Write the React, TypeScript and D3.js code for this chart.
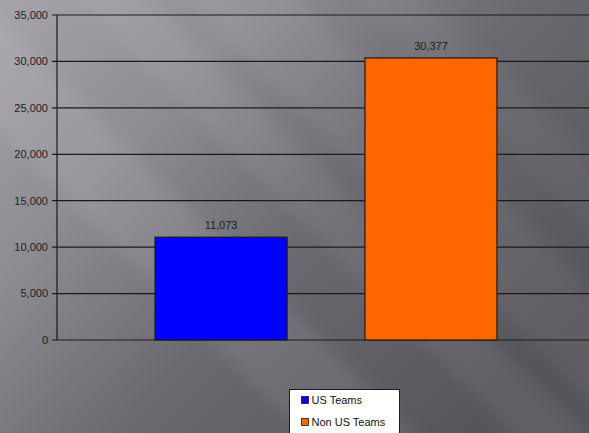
import React from "react";
import * as d3 from "d3";

const series = ["US Teams", "Non US Teams"];
const values = [11073, 30377];
const colors = ["#0000ff", "#ff6600"];
const yTicks = [0, 5000, 10000, 15000, 20000, 25000, 30000, 35000];

const W = 589;
const H = 433;

export default function App() {
  const y = d3.scaleLinear().domain([0, 35000]).range([340, 15]);
  const x = d3
    .scaleBand<string>()
    .domain(series)
    .range([57, 595])
    .paddingInner(0.371)
    .paddingOuter(0.467);
  const fmt = d3.format(",");
  const axisX = 57;

  // diagonal streaks ("\" direction)
  const streaks = [
    { x0: -150, w: 110, o: 0.08 },
    { x0: 60, w: 70, o: 0.06 },
    { x0: 170, w: 110, o: 0.05 },
    { x0: 340, w: 70, o: 0.035 },
  ];

  return (
    <svg
      width={W}
      height={H}
      style={{ position: "absolute", left: 0, top: 0, display: "block" }}
      fontFamily="Liberation Sans, Arial, sans-serif"
    >
      <defs>
        <linearGradient id="bg" x1="0" y1="0" x2="1" y2="0.7">
          <stop offset="0" stopColor="#a6a3aa" />
          <stop offset="0.3" stopColor="#8f8d94" />
          <stop offset="0.6" stopColor="#6c6a71" />
          <stop offset="1" stopColor="#57555c" />
        </linearGradient>
        <filter id="blur" x="-20%" y="-20%" width="140%" height="140%">
          <feGaussianBlur stdDeviation="7" />
        </filter>
        <clipPath id="clip">
          <rect x={0} y={0} width={W} height={H} />
        </clipPath>
      </defs>
      <rect x={0} y={0} width={W} height={H} fill="url(#bg)" />
      <g clipPath="url(#clip)">
        <g filter="url(#blur)">
          {streaks.map((s, i) => (
            <polygon
              key={i}
              points={`${s.x0},-20 ${s.x0 + s.w},-20 ${s.x0 + s.w + H + 40},${H + 20} ${s.x0 + H + 40},${H + 20}`}
              fill="#ffffff"
              opacity={s.o}
            />
          ))}
        </g>
      </g>
      {/* gridlines */}
      {yTicks.map((t) => (
        <g key={t}>
          <line x1={axisX - 5} x2={W} y1={y(t)} y2={y(t)} stroke="#1a1a1a" strokeWidth={1.2} />
          <text
            x={48}
            y={y(t)}
            dy="0.35em"
            textAnchor="end"
            fontSize={11}
            fill="#1e1e1e"
          >
            {fmt(t)}
          </text>
        </g>
      ))}
      <line x1={axisX} x2={axisX} y1={y(35000)} y2={y(0)} stroke="#1a1a1a" strokeWidth={1.2} />
      {/* bars */}
      {series.map((s, i) => (
        <g key={s}>
          <rect
            x={x(s)}
            y={y(values[i])}
            width={x.bandwidth()}
            height={y(0) - y(values[i])}
            fill={colors[i]}
            stroke="#1a1a1a"
            strokeWidth={1.2}
          />
          <text
            x={(x(s) as number) + x.bandwidth() / 2}
            y={y(values[i]) - 8}
            textAnchor="middle"
            fontSize={11}
            fill="#1e1e1e"
          >
            {fmt(values[i])}
          </text>
        </g>
      ))}
      {/* legend */}
      <rect x={289.5} y={389.5} width={110} height={60} fill="#ffffff" stroke="#1a1a1a" strokeWidth={1} />
      {series.map((s, i) => (
        <g key={s} transform={`translate(301.5, ${396.5 + i * 22})`}>
          <rect x={0} y={0} width={7} height={7} fill={colors[i]} stroke="#1a1a1a" strokeWidth={0.8} />
          <text x={10} y={7.5} fontSize={11} fill="#111">
            {s}
          </text>
        </g>
      ))}
    </svg>
  );
}
